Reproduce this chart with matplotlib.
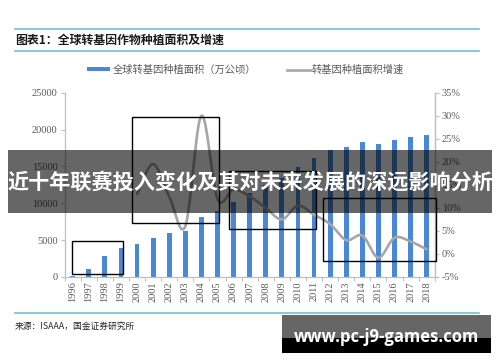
import numpy as np
import matplotlib
matplotlib.use("Agg")
import matplotlib.pyplot as plt
from matplotlib.patches import Rectangle
from matplotlib.lines import Line2D

plt.rcParams['font.family'] = ['Noto Sans CJK SC', 'DejaVu Sans']

# data
years = [str(y) for y in range(1996, 2019)]
area = [170, 1090, 2850, 3980, 4480, 5260, 5930, 6250, 8190, 9000, 10230, 11430,
        12500, 13400, 14900, 16130, 17160, 17570, 18250, 18030, 18570, 19020, 19250]
growth_years = years[4:]
growth = [13.0, 19.5, 12.5, 6.0, 30.0, 12.0, 14.0, 12.5, 10.0, 7.5, 10.5, 8.5,
          6.5, 3.0, 4.0, -0.8, 3.5, 2.7, 1.0]

title = '图表1：全球转基因作物种植面积及增速'
bar_label = '全球转基因种植面积（万公顷）'
line_label = '转基因种植面积增速'
source = '来源：ISAAA，国金证券研究所'
banner = '近十年联赛投入变化及其对未来发展的深远影响分析'
watermark = 'www.pc-j9-games.com'

BLUE = '#4A88D6'
GREY_LINE = '#A6A6A6'
AXIS = '#BFBFBF'
TICK_TXT = '#595959'
RULE = '#6EBEE4'


def smooth(x, y, n=20):
    # catmull-rom style smoothing, like the excel "smoothed line"
    x = np.asarray(x, float)
    y = np.asarray(y, float)
    px = np.concatenate([[2 * x[0] - x[1]], x, [2 * x[-1] - x[-2]]])
    py = np.concatenate([[2 * y[0] - y[1]], y, [2 * y[-1] - y[-2]]])
    xs, ys = [], []
    t = np.linspace(0, 1, n, endpoint=False)
    for i in range(1, len(px) - 2):
        for arr, out in ((px, xs), (py, ys)):
            p0, p1, p2, p3 = arr[i - 1], arr[i], arr[i + 1], arr[i + 2]
            out.extend(0.5 * (2 * p1 + (-p0 + p2) * t + (2 * p0 - 5 * p1 + 4 * p2 - p3) * t ** 2
                              + (-p0 + 3 * p1 - 3 * p2 + p3) * t ** 3))
    xs.append(x[-1])
    ys.append(y[-1])
    return np.array(xs), np.array(ys)


fig = plt.figure(figsize=(5, 3.62), dpi=100)
W, H = 500, 362

ax = fig.add_axes([64.6 / W, 1 - 277 / H, 370.1 / W, 184.3 / H])
ax2 = ax.twinx()

x = np.arange(len(years))
ax.bar(x, area, width=0.3, color=BLUE, zorder=2)
ax.set_xlim(-0.5, len(years) - 0.5)
ax.set_ylim(0, 25000)
ax.set_yticks(range(0, 25001, 5000))
ax.set_xticks(x)
ax.set_xticklabels(years, rotation=90)
ax.set_xticks(np.arange(-0.5, len(years), 1), minor=True)

gx = np.array([years.index(y) for y in growth_years])
sx, sy = smooth(gx, growth)
ax2.plot(sx, sy, color=GREY_LINE, lw=1.9, solid_capstyle='round', zorder=3)
ax2.set_ylim(-5, 35)
ax2.set_yticks(range(-5, 36, 5))
ax2.set_yticklabels([f'{v}%' for v in range(-5, 36, 5)])

for a in (ax, ax2):
    a.spines['top'].set_visible(False)
    for s in ('left', 'right', 'bottom'):
        a.spines[s].set_color(AXIS)
        a.spines[s].set_linewidth(0.9)
    a.tick_params(colors=AXIS, labelcolor=TICK_TXT, labelsize=7.5, length=3, width=0.8)
    for lab in a.get_yticklabels() + a.get_xticklabels():
        lab.set_family('Liberation Serif')
ax.tick_params(axis='x', which='major', length=0, pad=3)
ax.tick_params(axis='x', which='minor', length=3, color=AXIS, width=0.8)
ax.tick_params(axis='y', pad=2)
ax2.tick_params(axis='y', pad=2)
ax2.spines['left'].set_visible(False)
ax2.spines['bottom'].set_visible(False)

# black annotation boxes
for (x0, x1, y0, y1) in [(-0.06, 3.14, 370, 4890), (3.70, 9.11, 7300, 21740),
                         (9.73, 15.10, 6480, 14440), (15.57, 22.56, 2170, 10770)]:
    ax2.add_patch(Rectangle((x0, -5 + y0 / 625), x1 - x0, (y1 - y0) / 625, fill=False,
                            ec='black', lw=1.0, zorder=5, clip_on=False))

# header rules and title
for yy in (29.3, 51, 313.3):
    fig.add_artist(Line2D([15 / W, 479 / W], [1 - yy / H] * 2, color=RULE, lw=1.2))
fig.text(15 / W, 1 - 40.5 / H, title, fontsize=8.6, fontweight='bold', color='#1A1A1A',
         va='center', ha='left')

# legend
fig.add_artist(Rectangle((87 / W, 1 - 71 / H), 23 / W, 4 / H, color=BLUE, lw=0))
fig.text(113 / W, 1 - 69.5 / H, bar_label, fontsize=7.4, color=TICK_TXT, va='center')
fig.add_artist(Line2D([287 / W, 311 / W], [1 - 69.5 / H] * 2, color=GREY_LINE, lw=1.9))
fig.text(312 / W, 1 - 69.5 / H, line_label, fontsize=7.4, color=TICK_TXT, va='center')

# source
fig.text(15 / W, 1 - 326.5 / H, source, fontsize=6.3, color='#262626', va='center')

# banner overlay
fig.add_artist(Rectangle((8 / W, 1 - 212.7 / H), 484 / W, 62.7 / H, color='black',
                         alpha=0.6, lw=0, zorder=10))
fig.text(250 / W, 1 - 182 / H, banner, fontsize=15.2, fontweight='bold', color='white',
         ha='center', va='center', zorder=11)

# watermark box
fig.add_artist(Rectangle((282 / W, 1 - 338 / H), 209 / W, 23 / H, color='#666666', lw=0, zorder=10))
fig.add_artist(Rectangle((282 / W, 1 - 352.7 / H), 209 / W, 14.7 / H, color='black', lw=0, zorder=10))
fig.text(386 / W, 1 - 337 / H, watermark, fontsize=12, fontweight='bold', color='white',
         family='Open Sans', ha='center', va='center', zorder=11)

fig.savefig('out.png', dpi=100)
